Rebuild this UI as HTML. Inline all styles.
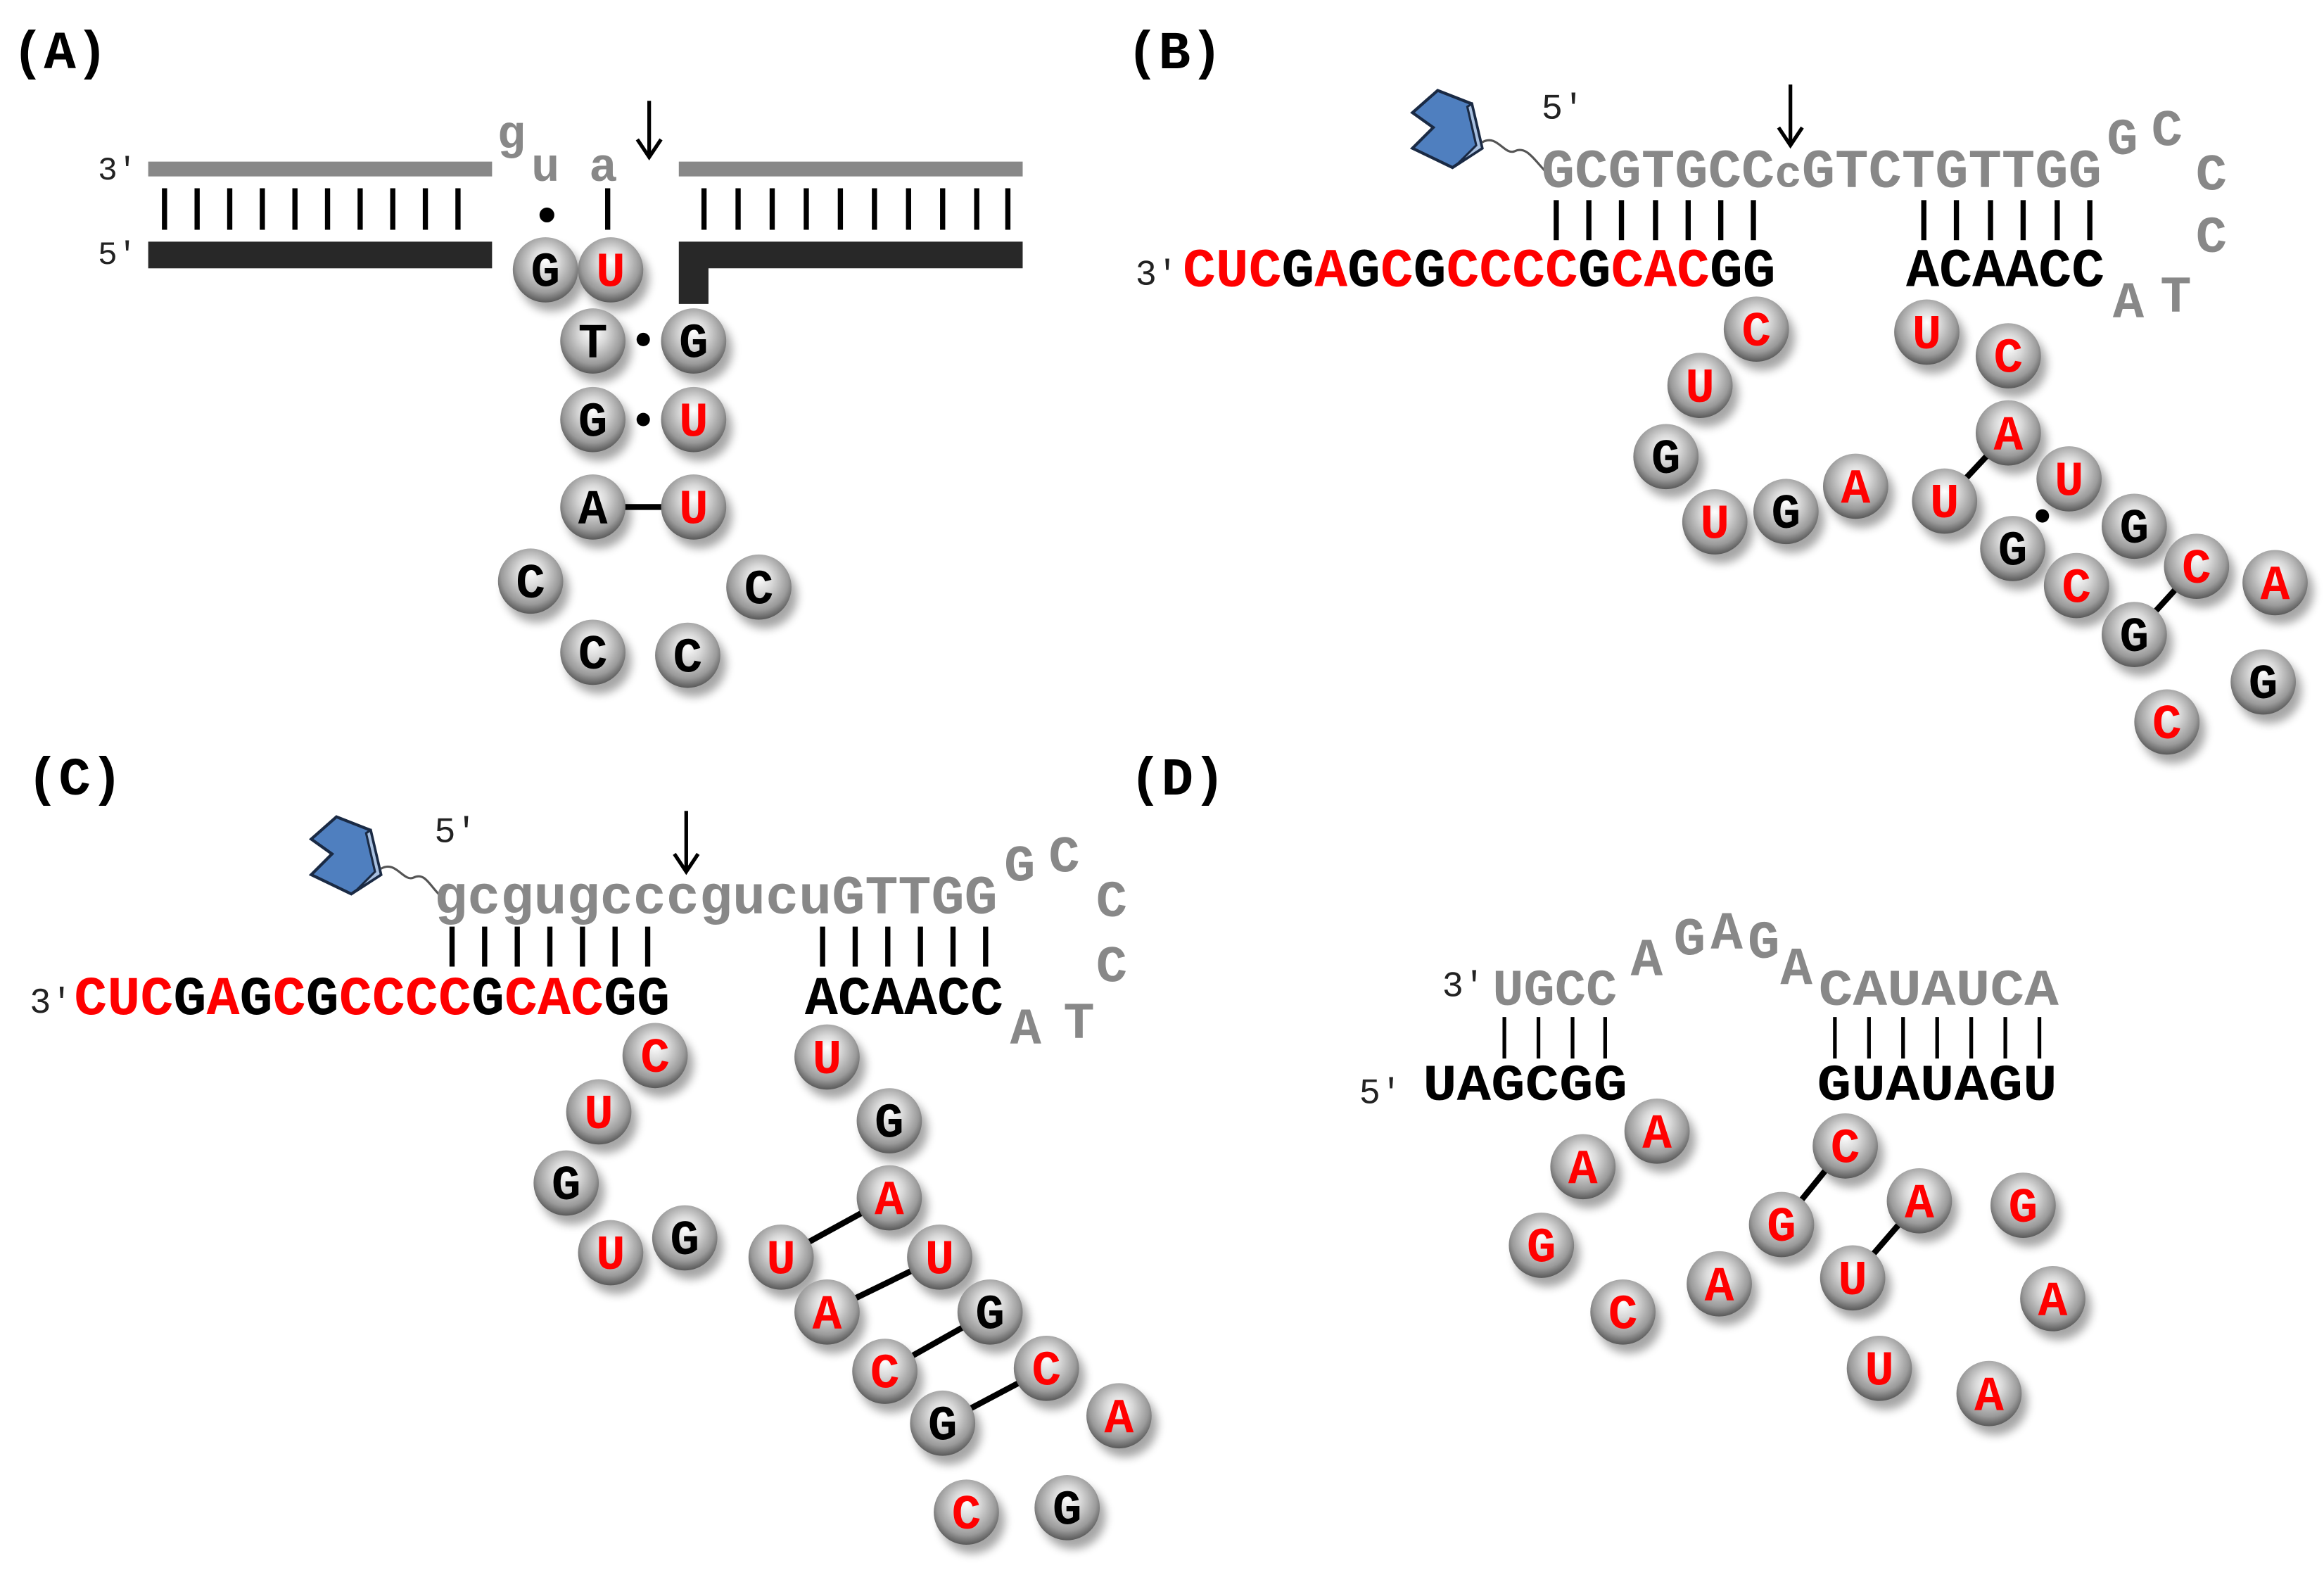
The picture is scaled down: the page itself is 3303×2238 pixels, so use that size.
<!DOCTYPE html>
<html><head><meta charset="utf-8"><style>
html,body{margin:0;padding:0;background:#fff}
svg{display:block}
.m{font-family:"Liberation Mono",monospace;font-weight:bold}
.n{font-family:"Liberation Mono",monospace;font-weight:normal;fill:#222}
.g{fill:#888}.k{fill:#000}.r{fill:#f00}
.b{font-family:"Liberation Mono",monospace;font-weight:bold;font-size:33px;text-anchor:middle}
</style></head><body>
<svg width="3303" height="2238" viewBox="0 0 1568 1062.4" xmlns="http://www.w3.org/2000/svg">
<defs>
<radialGradient id="sg" cx="0.5" cy="0.42" r="0.6" fx="0.5" fy="0.35">
<stop offset="0" stop-color="#ffffff"/><stop offset="0.35" stop-color="#d8d8d8"/><stop offset="0.75" stop-color="#9a9a9a"/><stop offset="1" stop-color="#505050"/>
</radialGradient>
<filter id="sh" x="-50%" y="-50%" width="200%" height="200%"><feGaussianBlur stdDeviation="3"/></filter>
<g id="ball"><circle cx="4" cy="6" r="22" fill="#000" opacity="0.35" filter="url(#sh)"/><circle cx="0" cy="0" r="22" fill="url(#sg)"/></g>
<g id="enz"><path d="M-22,-12 L-5,-27 L18,-18 L25,12 L5,25 L-22,12 L-8,-2 Z" fill="#4f7fbf" stroke="#1a2a44" stroke-width="2"/><path d="M18,-18 L25,12 L5,25 L9,22 L21,10 L15,-16 Z" fill="#a8c0e0" stroke="#1a2a44" stroke-width="1.5"/></g>
</defs>

<!-- Panel A -->
<text x="8" y="46" class="m k" font-size="36">(A)</text>
<rect x="100" y="109" width="232" height="10" fill="#888"/>
<rect x="458" y="109" width="232" height="10" fill="#888"/>
<rect x="100" y="163" width="232" height="18" fill="#282828"/>
<path d="M458,163 H690 V181 H478 V205 H458 Z" fill="#282828"/>
<text x="66" y="121" class="n" font-size="22">3'</text>
<text x="66" y="178" class="n" font-size="22">5'</text>
<g stroke="#000" stroke-width="3.5">
<line x1="111" y1="127" x2="111" y2="155"/><line x1="133" y1="127" x2="133" y2="155"/><line x1="155" y1="127" x2="155" y2="155"/><line x1="177" y1="127" x2="177" y2="155"/><line x1="199" y1="127" x2="199" y2="155"/><line x1="221" y1="127" x2="221" y2="155"/><line x1="243" y1="127" x2="243" y2="155"/><line x1="265" y1="127" x2="265" y2="155"/><line x1="287" y1="127" x2="287" y2="155"/><line x1="309" y1="127" x2="309" y2="155"/>
<line x1="475" y1="127" x2="475" y2="155"/><line x1="498" y1="127" x2="498" y2="155"/><line x1="521" y1="127" x2="521" y2="155"/><line x1="544" y1="127" x2="544" y2="155"/><line x1="567" y1="127" x2="567" y2="155"/><line x1="590" y1="127" x2="590" y2="155"/><line x1="613" y1="127" x2="613" y2="155"/><line x1="636" y1="127" x2="636" y2="155"/><line x1="659" y1="127" x2="659" y2="155"/><line x1="680" y1="127" x2="680" y2="155"/>
<line x1="410" y1="127" x2="410" y2="155"/>
<line x1="438" y1="68" x2="438" y2="104" stroke-width="2.5"/>
</g>
<path d="M430,94 L438,106 L446,94" fill="none" stroke="#000" stroke-width="2.5"/>
<text x="345" y="100" class="m g" font-size="32" text-anchor="middle">g</text>
<text x="368" y="122" class="m g" font-size="32" text-anchor="middle">u</text>
<text x="407" y="122" class="m g" font-size="32" text-anchor="middle">a</text>
<circle cx="369" cy="145" r="5" fill="#000"/>
<circle cx="434" cy="229" r="4.5" fill="#000"/>
<circle cx="434" cy="283" r="4.5" fill="#000"/>
<line x1="400" y1="342" x2="468" y2="342" stroke="#000" stroke-width="4"/>
<use href="#ball" x="368" y="182"/><text x="368" y="193" class="b k">G</text>
<use href="#ball" x="412" y="182"/><text x="412" y="193" class="b r">U</text>
<use href="#ball" x="400" y="230"/><text x="400" y="241" class="b k">T</text>
<use href="#ball" x="468" y="230"/><text x="468" y="241" class="b k">G</text>
<use href="#ball" x="400" y="283"/><text x="400" y="294" class="b k">G</text>
<use href="#ball" x="468" y="283"/><text x="468" y="294" class="b r">U</text>
<use href="#ball" x="400" y="342"/><text x="400" y="353" class="b k">A</text>
<use href="#ball" x="468" y="342"/><text x="468" y="353" class="b r">U</text>
<use href="#ball" x="358" y="392"/><text x="358" y="403" class="b k">C</text>
<use href="#ball" x="512" y="396"/><text x="512" y="407" class="b k">C</text>
<use href="#ball" x="400" y="440"/><text x="400" y="451" class="b k">C</text>
<use href="#ball" x="464" y="442"/><text x="464" y="453" class="b k">C</text>

<!-- Panel B -->
<text x="760" y="46" class="m k" font-size="36">(B)</text>
<use href="#enz" x="975" y="88"/>
<path d="M1000,96 C1010,90 1015,105 1022,102 C1030,98 1035,108 1045,118" fill="none" stroke="#555" stroke-width="1.5"/>
<text x="1040" y="80" class="n" font-size="24">5'</text>
<text x="1040" y="126" class="m g" font-size="37" textLength="378" lengthAdjust="spacingAndGlyphs">GCGTGCC<tspan font-size="30">c</tspan>GTCTGTTGG</text>
<line x1="1208" y1="57" x2="1208" y2="96" stroke="#000" stroke-width="2.5"/>
<path d="M1200,86 L1208,98 L1216,86" fill="none" stroke="#000" stroke-width="2.5"/>
<g class="m g" font-size="35" text-anchor="middle">
<text x="1432" y="104">G</text><text x="1462" y="98">C</text><text x="1492" y="128">C</text><text x="1492" y="170">C</text><text x="1468" y="210">T</text><text x="1436" y="214">A</text>
</g>
<g stroke="#000" stroke-width="3.5">
<line x1="1050" y1="135" x2="1050" y2="162"/><line x1="1072" y1="135" x2="1072" y2="162"/><line x1="1094" y1="135" x2="1094" y2="162"/><line x1="1117" y1="135" x2="1117" y2="162"/><line x1="1139" y1="135" x2="1139" y2="162"/><line x1="1161" y1="135" x2="1161" y2="162"/><line x1="1183" y1="135" x2="1183" y2="162"/>
<line x1="1298" y1="135" x2="1298" y2="162"/><line x1="1320" y1="135" x2="1320" y2="162"/><line x1="1343" y1="135" x2="1343" y2="162"/><line x1="1365" y1="135" x2="1365" y2="162"/><line x1="1388" y1="135" x2="1388" y2="162"/><line x1="1410" y1="135" x2="1410" y2="162"/>
</g>
<text x="766" y="192" class="n" font-size="24">3'</text>
<text x="798" y="193" class="m" font-size="37" textLength="400" lengthAdjust="spacingAndGlyphs"><tspan class="r">CUC</tspan><tspan class="k">G</tspan><tspan class="r">A</tspan><tspan class="k">G</tspan><tspan class="r">C</tspan><tspan class="k">G</tspan><tspan class="r">CCCC</tspan><tspan class="k">G</tspan><tspan class="r">CAC</tspan><tspan class="k">GG</tspan></text>
<text x="1286" y="193" class="m k" font-size="37" textLength="134" lengthAdjust="spacingAndGlyphs">ACAACC</text>
<line x1="1312" y1="338" x2="1355" y2="292" stroke="#000" stroke-width="4"/>
<line x1="1482" y1="382" x2="1440" y2="428" stroke="#000" stroke-width="4"/>
<circle cx="1378" cy="348" r="4.5" fill="#000"/>
<use href="#ball" x="1185" y="222"/><text x="1185" y="233" class="b r">C</text>
<use href="#ball" x="1147" y="260"/><text x="1147" y="271" class="b r">U</text>
<use href="#ball" x="1124" y="308"/><text x="1124" y="319" class="b k">G</text>
<use href="#ball" x="1157" y="352"/><text x="1157" y="363" class="b r">U</text>
<use href="#ball" x="1205" y="345"/><text x="1205" y="356" class="b k">G</text>
<use href="#ball" x="1252" y="328"/><text x="1252" y="339" class="b r">A</text>
<use href="#ball" x="1300" y="224"/><text x="1300" y="235" class="b r">U</text>
<use href="#ball" x="1355" y="240"/><text x="1355" y="251" class="b r">C</text>
<use href="#ball" x="1355" y="292"/><text x="1355" y="303" class="b r">A</text>
<use href="#ball" x="1396" y="323"/><text x="1396" y="334" class="b r">U</text>
<use href="#ball" x="1312" y="338"/><text x="1312" y="349" class="b r">U</text>
<use href="#ball" x="1358" y="370"/><text x="1358" y="381" class="b k">G</text>
<use href="#ball" x="1440" y="355"/><text x="1440" y="366" class="b k">G</text>
<use href="#ball" x="1401" y="395"/><text x="1401" y="406" class="b r">C</text>
<use href="#ball" x="1482" y="382"/><text x="1482" y="393" class="b r">C</text>
<use href="#ball" x="1440" y="428"/><text x="1440" y="439" class="b k">G</text>
<use href="#ball" x="1535" y="393"/><text x="1535" y="404" class="b r">A</text>
<use href="#ball" x="1527" y="460"/><text x="1527" y="471" class="b k">G</text>
<use href="#ball" x="1462" y="487"/><text x="1462" y="498" class="b r">C</text>

<!-- Panel C -->
<text x="18" y="536" class="m k" font-size="36">(C)</text>
<use href="#enz" x="232" y="578"/>
<path d="M257,586 C267,580 272,595 279,592 C287,588 290,598 298,605" fill="none" stroke="#555" stroke-width="1.5"/>
<text x="293" y="568" class="n" font-size="24">5'</text>
<text x="293" y="616" class="m g" font-size="37" textLength="380" lengthAdjust="spacingAndGlyphs">gcgugcccgucuGTTGG</text>
<line x1="463" y1="547" x2="463" y2="586" stroke="#000" stroke-width="2.5"/>
<path d="M455,576 L463,588 L471,576" fill="none" stroke="#000" stroke-width="2.5"/>
<g class="m g" font-size="35" text-anchor="middle">
<text x="688" y="594">G</text><text x="718" y="588">C</text><text x="750" y="618">C</text><text x="750" y="662">C</text><text x="728" y="700">T</text><text x="692" y="704">A</text>
</g>
<g stroke="#000" stroke-width="3.5">
<line x1="305" y1="625" x2="305" y2="652"/><line x1="327" y1="625" x2="327" y2="652"/><line x1="349" y1="625" x2="349" y2="652"/><line x1="371" y1="625" x2="371" y2="652"/><line x1="393" y1="625" x2="393" y2="652"/><line x1="415" y1="625" x2="415" y2="652"/><line x1="437" y1="625" x2="437" y2="652"/>
<line x1="555" y1="625" x2="555" y2="652"/><line x1="577" y1="625" x2="577" y2="652"/><line x1="599" y1="625" x2="599" y2="652"/><line x1="621" y1="625" x2="621" y2="652"/><line x1="643" y1="625" x2="643" y2="652"/><line x1="665" y1="625" x2="665" y2="652"/>
</g>
<text x="20" y="683" class="n" font-size="24">3'</text>
<text x="50" y="684" class="m" font-size="37" textLength="402" lengthAdjust="spacingAndGlyphs"><tspan class="r">CUC</tspan><tspan class="k">G</tspan><tspan class="r">A</tspan><tspan class="k">G</tspan><tspan class="r">C</tspan><tspan class="k">G</tspan><tspan class="r">CCCC</tspan><tspan class="k">G</tspan><tspan class="r">CAC</tspan><tspan class="k">GG</tspan></text>
<text x="543" y="684" class="m k" font-size="37" textLength="134" lengthAdjust="spacingAndGlyphs">ACAACC</text>
<g stroke="#000" stroke-width="4">
<line x1="527" y1="848" x2="600" y2="808"/><line x1="558" y1="885" x2="634" y2="848"/><line x1="597" y1="925" x2="668" y2="885"/><line x1="636" y1="960" x2="706" y2="923"/>
</g>
<use href="#ball" x="442" y="712"/><text x="442" y="723" class="b r">C</text>
<use href="#ball" x="404" y="750"/><text x="404" y="761" class="b r">U</text>
<use href="#ball" x="382" y="798"/><text x="382" y="809" class="b k">G</text>
<use href="#ball" x="412" y="845"/><text x="412" y="856" class="b r">U</text>
<use href="#ball" x="462" y="835"/><text x="462" y="846" class="b k">G</text>
<use href="#ball" x="558" y="713"/><text x="558" y="724" class="b r">U</text>
<use href="#ball" x="600" y="756"/><text x="600" y="767" class="b k">G</text>
<use href="#ball" x="600" y="808"/><text x="600" y="819" class="b r">A</text>
<use href="#ball" x="527" y="848"/><text x="527" y="859" class="b r">U</text>
<use href="#ball" x="634" y="848"/><text x="634" y="859" class="b r">U</text>
<use href="#ball" x="558" y="885"/><text x="558" y="896" class="b r">A</text>
<use href="#ball" x="668" y="885"/><text x="668" y="896" class="b k">G</text>
<use href="#ball" x="597" y="925"/><text x="597" y="936" class="b r">C</text>
<use href="#ball" x="706" y="923"/><text x="706" y="934" class="b r">C</text>
<use href="#ball" x="636" y="960"/><text x="636" y="971" class="b k">G</text>
<use href="#ball" x="755" y="955"/><text x="755" y="966" class="b r">A</text>
<use href="#ball" x="652" y="1020"/><text x="652" y="1031" class="b r">C</text>
<use href="#ball" x="720" y="1017"/><text x="720" y="1028" class="b k">G</text>

<!-- Panel D -->
<text x="762" y="536" class="m k" font-size="36">(D)</text>
<text x="973" y="672" class="n" font-size="24">3'</text>
<text x="1007" y="678" class="m g" font-size="35" textLength="84" lengthAdjust="spacingAndGlyphs">UGCC</text>
<g class="m g" font-size="36" text-anchor="middle">
<text x="1111" y="658">A</text><text x="1140" y="644">G</text><text x="1165" y="640">A</text><text x="1190" y="646">G</text><text x="1212" y="664">A</text>
</g>
<text x="1227" y="678" class="m g" font-size="35" textLength="162" lengthAdjust="spacingAndGlyphs">CAUAUCA</text>
<g stroke="#000" stroke-width="2.5">
<line x1="1015" y1="686" x2="1015" y2="714"/><line x1="1038" y1="686" x2="1038" y2="714"/><line x1="1061" y1="686" x2="1061" y2="714"/><line x1="1083" y1="686" x2="1083" y2="714"/>
<line x1="1238" y1="686" x2="1238" y2="714"/><line x1="1261" y1="686" x2="1261" y2="714"/><line x1="1284" y1="686" x2="1284" y2="714"/><line x1="1307" y1="686" x2="1307" y2="714"/><line x1="1330" y1="686" x2="1330" y2="714"/><line x1="1353" y1="686" x2="1353" y2="714"/><line x1="1376" y1="686" x2="1376" y2="714"/>
</g>
<text x="917" y="744" class="n" font-size="24">5'</text>
<text x="960" y="742" class="m k" font-size="35" textLength="138" lengthAdjust="spacingAndGlyphs">UAGCGG</text>
<text x="1226" y="742" class="m k" font-size="35" textLength="162" lengthAdjust="spacingAndGlyphs">GUAUAGU</text>
<g stroke="#000" stroke-width="4">
<line x1="1245" y1="773" x2="1202" y2="826"/><line x1="1295" y1="810" x2="1250" y2="862"/>
</g>
<use href="#ball" x="1118" y="763"/><text x="1118" y="774" class="b r">A</text>
<use href="#ball" x="1068" y="787"/><text x="1068" y="798" class="b r">A</text>
<use href="#ball" x="1040" y="840"/><text x="1040" y="851" class="b r">G</text>
<use href="#ball" x="1095" y="885"/><text x="1095" y="896" class="b r">C</text>
<use href="#ball" x="1245" y="773"/><text x="1245" y="784" class="b r">C</text>
<use href="#ball" x="1202" y="826"/><text x="1202" y="837" class="b r">G</text>
<use href="#ball" x="1295" y="810"/><text x="1295" y="821" class="b r">A</text>
<use href="#ball" x="1250" y="862"/><text x="1250" y="873" class="b r">U</text>
<use href="#ball" x="1160" y="866"/><text x="1160" y="877" class="b r">A</text>
<use href="#ball" x="1365" y="813"/><text x="1365" y="824" class="b r">G</text>
<use href="#ball" x="1385" y="876"/><text x="1385" y="887" class="b r">A</text>
<use href="#ball" x="1268" y="923"/><text x="1268" y="934" class="b r">U</text>
<use href="#ball" x="1342" y="940"/><text x="1342" y="951" class="b r">A</text>
</svg>
</body></html>
